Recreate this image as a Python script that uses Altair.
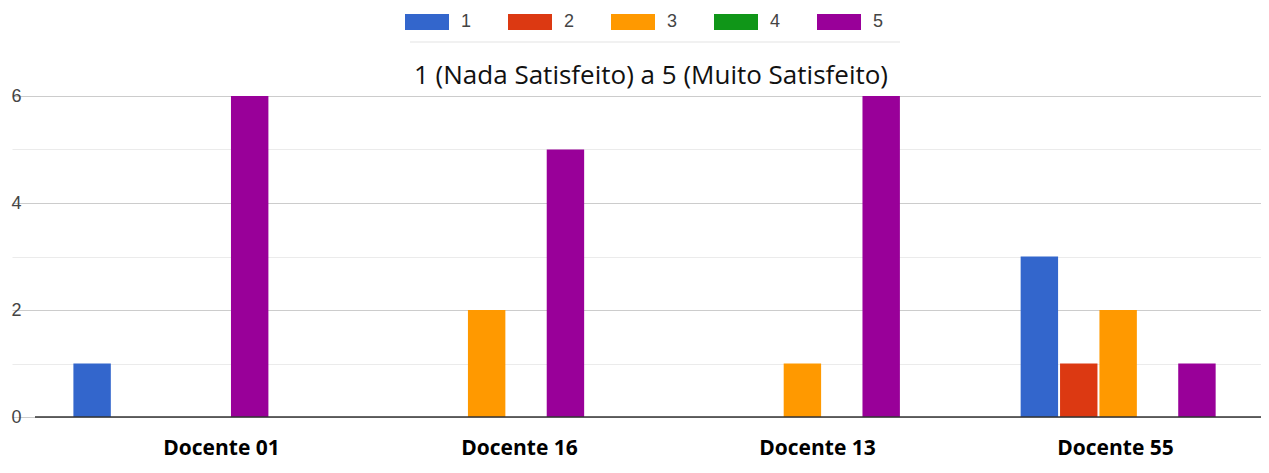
import altair as alt
import pandas as pd

docentes = ["Docente 01", "Docente 16", "Docente 13", "Docente 55"]
notas = ["1", "2", "3", "4", "5"]
nota1 = [1, 0, 0, 3]
nota2 = [0, 0, 0, 1]
nota3 = [0, 2, 1, 2]
nota4 = [0, 0, 0, 0]
nota5 = [6, 5, 6, 1]
cores = ["#3366cc", "#dc3912", "#ff9900", "#109618", "#990099"]
titulo = "1 (Nada Satisfeito) a 5 (Muito Satisfeito)"

series = [nota1, nota2, nota3, nota4, nota5]
rows = []
for n, vals in zip(notas, series):
    for d, v in zip(docentes, vals):
        rows.append({"Docente": d, "Nota": n, "Contagem": v})
df = pd.DataFrame(rows)
df_lab = pd.DataFrame({"Docente": docentes})

W = 1226
H = 321
TOP = 88

yscale = alt.Scale(domain=[0, 6], nice=False)

bars = alt.Chart(df).mark_bar().encode(
    x=alt.X("Docente:N", sort=docentes,
            scale=alt.Scale(range=[-23, 1240], paddingInner=0, paddingOuter=0),
            axis=None),
    xOffset=alt.XOffset("Nota:N", sort=notas,
                        scale=alt.Scale(range=[61.4, 256.4], paddingInner=0.05, paddingOuter=0)),
    y=alt.Y("Contagem:Q", scale=yscale,
            axis=alt.Axis(values=[0, 1, 2, 3, 4, 5, 6], title=None, format="d",
                          labelExpr="datum.value % 2 == 0 ? datum.label : ''",
                          ticks=False, domain=False,
                          labelFontSize=18, labelColor="#444444",
                          labelFont="Liberation Sans", labelPadding=14,
                          gridColor={"condition": {"test": "datum.value % 2 == 0", "value": "#cccccc"},
                                     "value": "#ebebeb"},
                          gridWidth=1)),
    color=alt.Color("Nota:N", sort=notas,
                    scale=alt.Scale(domain=notas, range=cores),
                    legend=alt.Legend(orient="none", legendX=370, legendY=-96,
                                      direction="horizontal", title=None,
                                      symbolType="M-1,-0.364H1V0.364H-1Z",
                                      symbolSize=1936, symbolStrokeWidth=0,
                                      symbolOpacity=1,
                                      labelFontSize=18, labelColor="#444444",
                                      labelFont="Liberation Sans", labelOffset=12,
                                      columnPadding=36)),
)

baseline = alt.Chart(pd.DataFrame({"z": [0]})).mark_rule(color="#333333", strokeWidth=1.5).encode(
    y=alt.Y("z:Q", scale=yscale),
    x=alt.value(0), x2=alt.value(W),
)

sep = alt.Chart(pd.DataFrame({"z": [0]})).mark_rule(color="#e3e3e3", strokeWidth=1).encode(
    x=alt.value(375), x2=alt.value(865), y=alt.value(-54),
)

title_layer = alt.Chart(pd.DataFrame({"t": [titulo]})).mark_text(
    font="Open Sans", fontSize=26, color="#111111", align="center", baseline="middle"
).encode(
    text="t:N", x=alt.value(616), y=alt.value(-20),
)

labels = alt.Chart(df_lab).mark_point(opacity=0).encode(
    x=alt.X("Docente:N", sort=docentes,
            scale=alt.Scale(type="point", range=[186, 1080], padding=0),
            axis=alt.Axis(title=None, domain=False, ticks=False, labelAngle=0,
                          labelFontSize=21, labelFontWeight="bold",
                          labelFont="Open Sans", labelColor="#000000",
                          labelPadding=20)),
    y=alt.value(0),
)

chart = alt.layer(bars, baseline, sep, title_layer, labels).resolve_scale(
    x="independent"
).properties(
    width=W, height=H,
    autosize=alt.AutoSizeParams(type="none"),
    padding={"left": 27, "top": TOP, "right": 0, "bottom": 457 - TOP - H},
).configure_view(stroke=None)

chart.save("out.html", embed_options={"renderer": "svg", "actions": False})
